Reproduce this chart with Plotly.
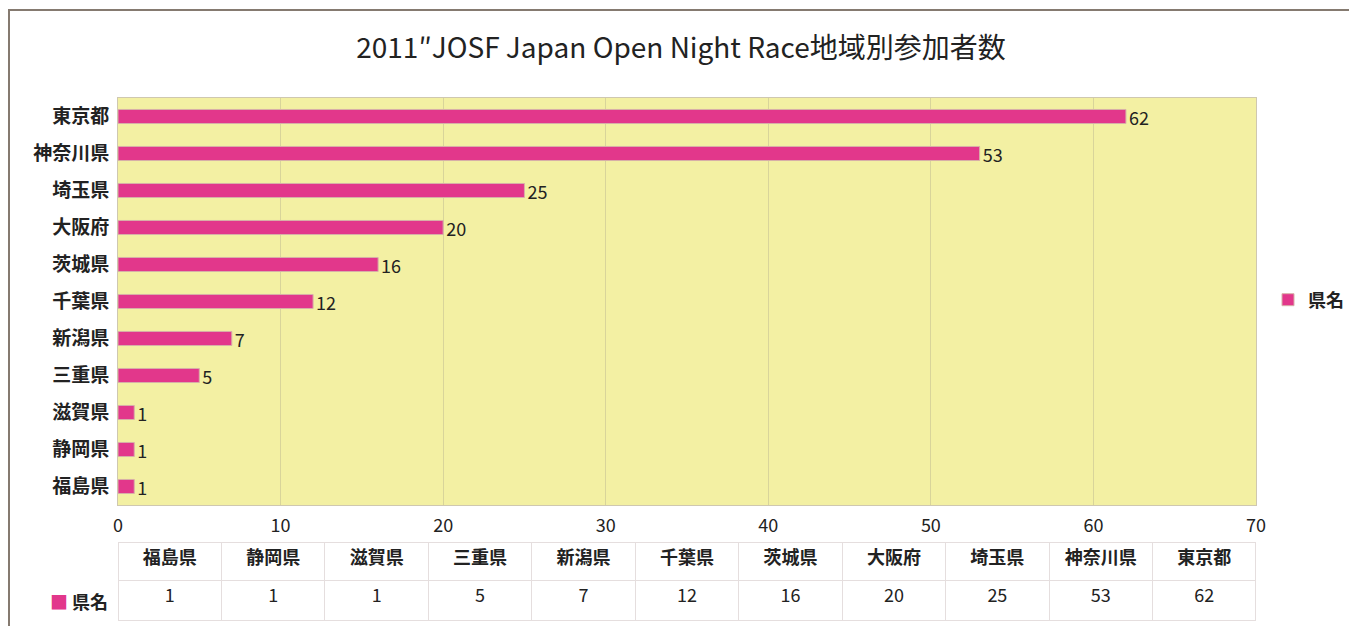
import plotly.graph_objects as go

categories = ['福島県', '静岡県', '滋賀県', '三重県', '新潟県', '千葉県', '茨城県', '大阪府', '埼玉県', '神奈川県', '東京都']
values = [1, 1, 1, 5, 7, 12, 16, 20, 25, 53, 62]
series_name = '県名'
title_text = '2011″JOSF Japan Open Night Race地域別参加者数'
x_ticks = [0, 10, 20, 30, 40, 50, 60, 70]

W, H = 1349, 626
BAR = '#E2378B'
CJK = 'Noto Sans CJK JP'

px0, px1 = 118, 1256
py0, py1 = 98, 505

fig = go.Figure()
fig.add_trace(go.Bar(
    y=categories, x=values, orientation='h', name=series_name,
    marker=dict(color=BAR, line=dict(color='#D7B0A8', width=1)),
    text=[str(v) for v in values], textposition='outside', constraintext='none',
    textfont=dict(family=CJK, size=18, color='#222'),
    cliponaxis=False, showlegend=True,
))

fig.add_trace(go.Table(
    domain=dict(x=[px0 / W, px1 / W], y=[0, 1 - 542 / H]),
    header=dict(
        values=categories,
        height=38,
        fill_color='white',
        line_color='#E5DEDE',
        font=dict(family=CJK, size=18, color='#222', weight='bold'),
        align='center',
    ),
    cells=dict(
        values=[[str(v)] for v in values],
        height=40,
        fill_color='white',
        line_color='#E5DEDE',
        font=dict(family=CJK, size=18, color='#222'),
        align='center',
    ),
))

fig.update_layout(
    width=W, height=H,
    margin=dict(l=0, r=0, t=0, b=0, autoexpand=False),
    paper_bgcolor='white',
    plot_bgcolor='#F3F0A3',
    bargap=0.62,
    title=dict(text=title_text, x=681 / W, xanchor='center', y=1 - 48 / H, yanchor='middle',
               font=dict(family=CJK, size=28, color='#222')),
    xaxis=dict(domain=[px0 / W, px1 / W], range=[0, 70], tickvals=x_ticks,
               showgrid=True, gridcolor='#D8D49A', gridwidth=1, zeroline=False,
               showline=True, linecolor='#CFC8B0', mirror=True,
               ticks='outside', ticklen=4, tickcolor='rgba(0,0,0,0)',
               tickfont=dict(family=CJK, size=18, color='#222')),
    yaxis=dict(domain=[1 - py1 / H, 1 - py0 / H], categoryorder='array', categoryarray=categories,
               showline=True, linecolor='#CFC8B0', mirror=True, showgrid=False,
               ticks='outside', ticklen=4, tickcolor='rgba(0,0,0,0)',
               tickfont=dict(family=CJK, size=19, color='#222', weight='bold')),
    legend=dict(x=1268 / W, y=1 - 300 / H, xanchor='left', yanchor='middle',
                font=dict(family=CJK, size=18, color='#222', weight='bold'),
                itemwidth=30, bgcolor='rgba(0,0,0,0)'),
    annotations=[dict(text=f'<span style="color:{BAR}">■</span> <b>{series_name}</b>',
                      xref='paper', yref='paper', x=110 / W, y=1 - 601 / H,
                      xanchor='right', yanchor='middle', showarrow=False,
                      font=dict(family=CJK, size=18, color='#222'))],
    shapes=[dict(type='rect', xref='paper', yref='paper', x0=9 / W, x1=1.02, y0=-0.02, y1=1 - 10 / H,
                 line=dict(color='#857A70', width=2), fillcolor='rgba(0,0,0,0)')],
)

fig.write_html('out.html', config={'responsive': False, 'displayModeBar': False},
               post_script="document.body.style.margin='0';document.body.style.overflow='hidden';")
